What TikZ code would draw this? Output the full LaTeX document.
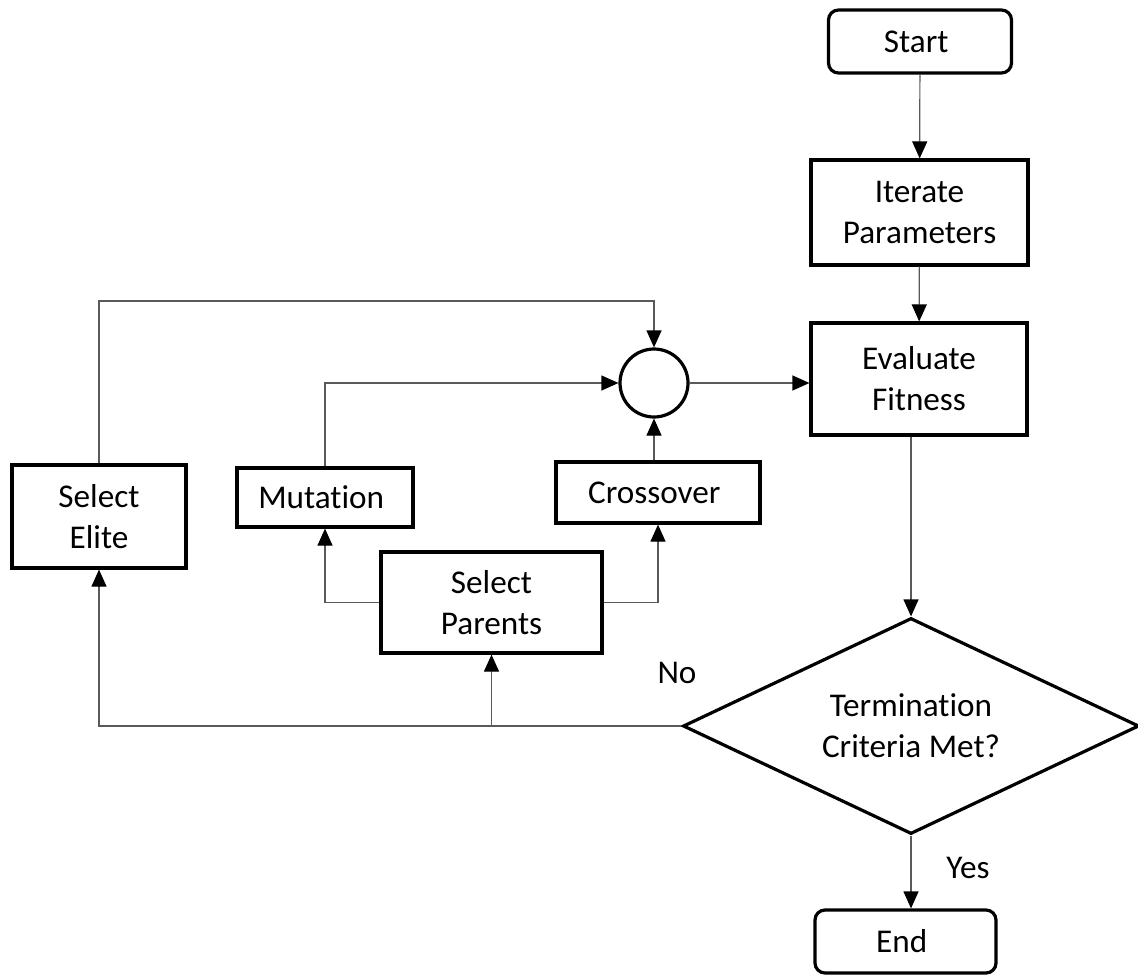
\documentclass[tikz,border=0pt]{standalone}
\usepackage{fontspec}
\setmainfont{Carlito}[Ligatures=NoCommon]
\usetikzlibrary{shapes, shapes.geometric, arrows.meta, calc, positioning}
\newcommand{\flowfont}{\fontsize{16.6}{20.5}\selectfont}
\tikzset{block/.style={draw, rectangle, line width=1.6pt, inner sep=0pt, align=center, font=\flowfont}}
\tikzset{terminal/.style={block, rounded corners=5pt}}
\tikzset{decision/.style={draw, diamond, aspect=2.1, line width=1.6pt, inner sep=0pt, align=center, font=\flowfont}}
\tikzset{junction/.style={draw, circle, line width=1.6pt, inner sep=0pt, minimum size=34pt}}
\tikzset{link/.style={draw=black!65, line width=0.6pt, -{Triangle[length=8.5pt, width=7.5pt, color=black]}}}
\tikzset{branch/.style={font=\flowfont}}

\begin{document}
\begin{tikzpicture}[x=0.5pt, y=-0.5pt]
        \useasboundingbox (0, 0) rectangle (1138, 974);

        \node [terminal, minimum width=91.5pt, minimum height=31.5pt] (Start) at (920, 41.5) { Start };
        \node [block, minimum width=108.5pt, minimum height=52.5pt] (Iter) at (919.5, 212.5) { Iterate\\Parameters };
        \node [block, minimum width=108pt, minimum height=56pt] (Eval) at (919, 379) { Evaluate\\Fitness };
        \node [decision, minimum width=228pt, minimum height=108pt] (Term) at (911, 726) { Termination\\Criteria Met? };
        \node [terminal, minimum width=90.5pt, minimum height=31.5pt] (End) at (905.5, 941.5) { End };

        \node [junction] (Join) at (654, 383) {};
        \node [block, minimum width=87pt, minimum height=51.5pt] (Elite) at (99, 516.5) { Select\\Elite };
        \node [block, minimum width=88pt, minimum height=29.5pt] (Mut) at (325, 497.5) { Mutation };
        \node [block, minimum width=102pt, minimum height=30.5pt] (Cross) at (658, 492.5) { Crossover };
        \node [block, minimum width=110.5pt, minimum height=50.5pt] (Par) at (491.5, 602.5) { Select\\Parents };

        \node [branch] (No) at (677, 673) { No };
        \node [branch] (Yes) at (968, 868) { Yes };

        \coordinate (Top) at (654, 301);
        \coordinate (Br) at (Term.west -| Par.south);

        \draw [link] (Start) -- (Iter);
        \draw [link] (Iter) -- (Eval);
        \draw [link] (Join) -- (Join -| Eval.west);
        \draw [link] (Eval.south -| Term.north) -- (Term.north);
        \draw [link] (Term.south) -- (Term.south |- End.north);

        \draw [link] (Term.west) -| (Elite.south);
        \draw [link] (Br) -- (Par.south);
        \draw [link] (Elite.north) |- (Top) -- (Join.north);
        \draw [link] (Mut.north) |- (Join.west);
        \draw [link] (Cross.north -| Join.south) -- (Join.south);
        \draw [link] (Par.east) -| (Cross.south);
        \draw [link] (Par.west) -| (Mut.south);
    \end{tikzpicture}
\end{document}
